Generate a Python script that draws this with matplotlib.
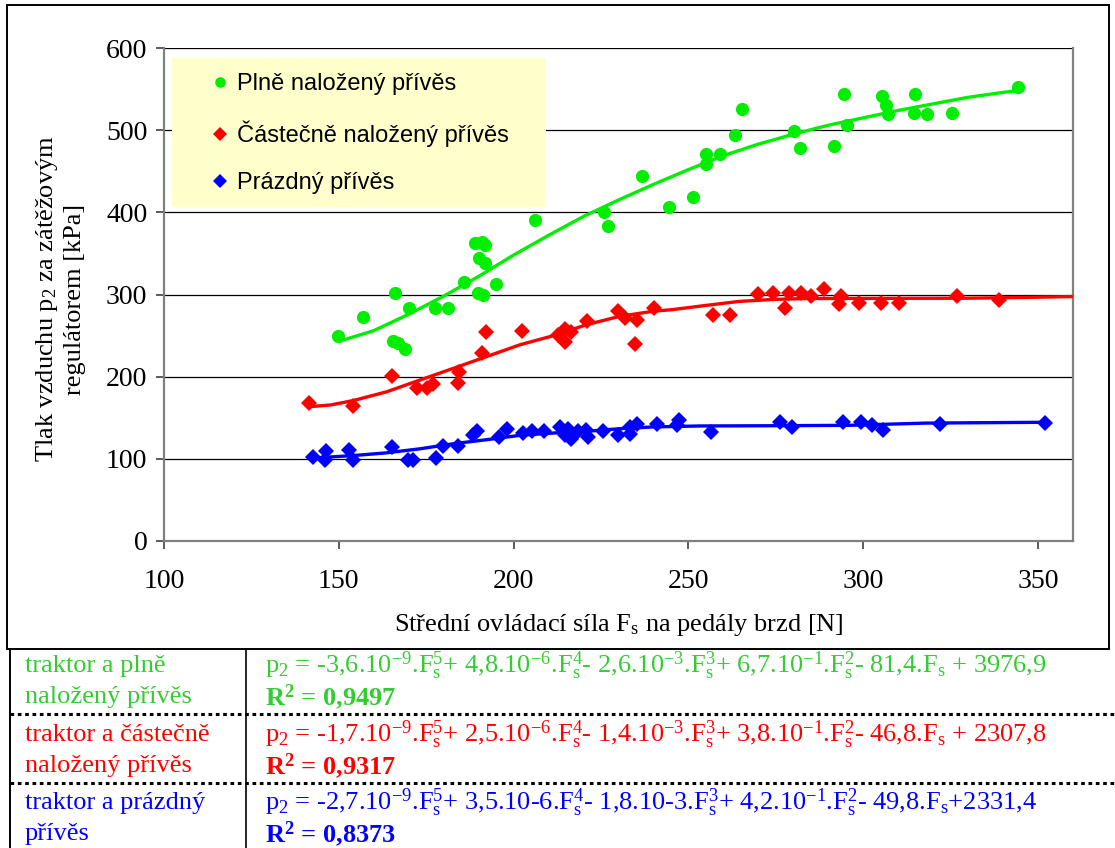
import numpy as np
import matplotlib
matplotlib.use("Agg")
import matplotlib.pyplot as plt
from matplotlib.lines import Line2D
from matplotlib.patches import Rectangle

plt.rcParams["font.family"] = ["Liberation Serif", "DejaVu Serif"]
plt.rcParams["mathtext.fontset"] = "custom"
plt.rcParams["mathtext.rm"] = "Liberation Serif"
plt.rcParams["mathtext.it"] = "Liberation Serif:italic"
plt.rcParams["mathtext.bf"] = "Liberation Serif:bold"

# --- measured data: mean pedal force Fs [N] vs. air pressure p2 [kPa] ---
full_fs = [149.9, 157.0, 166.1, 165.4, 167.0, 168.8, 170.2, 177.5, 181.3, 185.9,
           188.9, 190.9, 191.8, 190.2, 191.8, 189.7, 191.3, 195.0, 206.1, 225.9,
           227.1, 236.6, 244.4, 251.4, 254.9, 254.9, 259.1, 263.3, 265.4, 280.3,
           281.9, 291.7, 294.4, 295.4, 305.4, 306.5, 307.0, 314.5, 314.9, 318.1,
           325.5, 344.4]
full_p2 = [249.8, 272.2, 302.0, 242.9, 240.8, 233.9, 283.7, 283.7, 283.7, 315.5,
           362.4, 364.5, 360.4, 344.9, 338.0, 302.0, 299.2, 313.0, 390.6, 400.0,
           382.9, 444.0, 406.0, 419.2, 471.5, 458.5, 471.5, 494.7, 525.6, 498.8,
           478.5, 480.9, 543.9, 506.1, 541.9, 530.5, 519.5, 521.5, 543.9, 519.5,
           521.5, 552.8]

part_fs = [141.6, 154.2, 165.1, 172.3, 175.3, 176.9, 184.0, 184.5, 190.9, 192.0,
           202.5, 212.8, 214.7, 216.3, 214.7, 221.1, 229.9, 232.0, 235.3, 234.7,
           240.1, 257.1, 262.0, 270.0, 274.1, 277.7, 278.8, 282.2, 285.2, 288.9,
           293.6, 293.1, 298.9, 305.0, 310.3, 326.8, 338.9]
part_p2 = [167.6, 164.5, 200.8, 185.7, 185.7, 190.6, 191.8, 206.1, 229.4, 253.9,
           255.9, 251.0, 258.0, 253.9, 241.6, 267.3, 280.4, 271.4, 268.6, 240.0,
           283.7, 274.7, 274.7, 300.4, 302.0, 283.7, 302.0, 302.0, 297.9, 306.5,
           297.9, 288.2, 290.2, 290.2, 290.2, 297.9, 293.0]

empty_fs = [142.7, 146.3, 146.1, 152.8, 154.2, 165.1, 169.9, 171.1, 177.8, 179.9,
            184.2, 188.3, 189.4, 195.9, 198.0, 202.6, 205.2, 208.7, 213.4, 215.6,
            214.7, 216.3, 218.5, 220.6, 221.3, 225.6, 229.9, 233.2, 233.4, 235.3,
            241.0, 246.6, 247.3, 256.4, 276.2, 279.6, 294.1, 299.3, 302.6, 305.6,
            321.9, 352.1]
empty_p2 = [102.0, 109.0, 98.0, 111.0, 99.0, 114.0, 99.0, 99.0, 101.0, 115.5,
            116.0, 129.0, 133.5, 127.0, 136.0, 131.4, 133.5, 133.5, 138.8, 136.7,
            128.6, 124.5, 133.5, 134.7, 126.5, 133.5, 128.6, 138.8, 130.6, 142.9,
            142.0, 140.8, 147.5, 132.5, 145.0, 139.0, 144.5, 144.5, 141.5, 135.0,
            142.4, 144.0]

# --- 5th-order polynomial trend lines (values along each curve) ---
full_trend_fs = [149.8, 160.0, 170.0, 180.0, 190.0, 200.0, 210.0, 220.0, 230.0,
                 240.0, 250.0, 260.0, 270.0, 280.0, 290.0, 300.0, 310.0, 320.0,
                 330.0, 340.0, 344.4]
full_trend_p2 = [242.7, 256.0, 276.0, 298.0, 322.0, 348.0, 372.0, 395.0, 415.0,
                 434.0, 452.0, 469.0, 483.0, 495.0, 506.0, 515.0, 524.0, 532.0,
                 540.0, 546.0, 548.0]

part_trend_fs = [141.6, 147.6, 154.2, 163.7, 173.2, 182.8, 192.3, 201.8, 211.3,
                 220.9, 230.4, 239.9, 245.2, 254.8, 264.3, 273.8, 283.3, 300.0,
                 330.0, 347.0, 360.0]
part_trend_p2 = [163.5, 165.5, 171.0, 181.6, 195.9, 210.2, 224.5, 238.8, 249.8,
                 263.3, 273.5, 279.6, 281.5, 286.6, 291.5, 293.9, 295.1, 295.2,
                 295.5, 296.5, 297.5]

empty_trend_fs = [142.7, 154.2, 163.7, 173.2, 182.8, 192.3, 201.8, 211.3, 220.9,
                  230.4, 239.9, 253.2, 275.0, 296.0, 318.0, 352.1]
empty_trend_p2 = [101.0, 104.0, 107.3, 112.2, 118.4, 123.3, 128.6, 131.4, 133.5,
                  136.7, 138.8, 140.0, 140.3, 140.8, 143.5, 144.5]

labels = ["Plně naložený přívěs", "Částečně naložený přívěs", "Prázdný přívěs"]
row_names = [("traktor a plně", "naložený přívěs"),
             ("traktor a částečně", "naložený přívěs"),
             ("traktor a prázdný", "přívěs")]
Fs = r"F$_\mathrm{s}$"


def Fpow(n):
    return r"F$_\mathrm{s}^{%d}$" % n


equations = [
    r"p$_2$ = -3,6.10$^{-9}$." + Fpow(5) + r"+ 4,8.10$^{-6}$." + Fpow(4)
    + r"- 2,6.10$^{-3}$." + Fpow(3) + r"+ 6,7.10$^{-1}$." + Fpow(2)
    + "- 81,4." + Fs + " + 3976,9",
    r"p$_2$ = -1,7.10$^{-9}$." + Fpow(5) + r"+ 2,5.10$^{-6}$." + Fpow(4)
    + r"- 1,4.10$^{-3}$." + Fpow(3) + r"+ 3,8.10$^{-1}$." + Fpow(2)
    + "- 46,8." + Fs + " + 2307,8",
    r"p$_2$ = -2,7.10$^{-9}$." + Fpow(5) + "+ 3,5.10-6." + Fpow(4)
    + "- 1,8.10-3." + Fpow(3) + r"+ 4,2.10$^{-1}$." + Fpow(2)
    + "- 49,8." + Fs + "+2331,4",
]
r2_values = ["0,9497", "0,9317", "0,8373"]

marker_colors = ["#00EE00", "#FF0000", "#0000FF"]
text_colors = ["#33CC33", "#FF0000", "#0000FF"]

W, H = 1115, 848
fig = plt.figure(figsize=(W / 100, H / 100), dpi=100)


def fx(px):
    return px / W


def fy(py):
    return 1 - py / H


ax = fig.add_axes([fx(164), fy(541), fx(1073) - fx(164), fy(48) - fy(541)])
ax.set_xlim(100, 360)
ax.set_ylim(0, 600)
ax.set_xticks(np.arange(100, 351, 50))
ax.set_yticks(np.arange(0, 601, 100))
ax.yaxis.grid(True, color="#000000", linewidth=0.9, zorder=0)
ax.set_axisbelow(True)
for s in ax.spines.values():
    s.set_color("#808080")
    s.set_linewidth(1.6)
ax.spines["top"].set_visible(False)
ax.tick_params(axis="both", labelsize=20, length=6, width=1.2, color="#404040")
ax.tick_params(axis="x", pad=14)
ax.tick_params(axis="y", pad=6)

series = [
    (full_fs, full_p2, full_trend_fs, full_trend_p2, "o", 9.5),
    (part_fs, part_p2, part_trend_fs, part_trend_p2, "D", 8.5),
    (empty_fs, empty_p2, empty_trend_fs, empty_trend_p2, "D", 8.5),
]
handles = []
for (xs, ys, tx, ty, mk, ms), col in zip(series, marker_colors):
    ax.plot(xs, ys, linestyle="none", marker=mk, markersize=ms,
            color=col, markeredgewidth=0, zorder=3)
    ax.plot(tx, ty, color=col, linewidth=2.4, zorder=4,
            solid_joinstyle="round", solid_capstyle="butt")
    handles.append(Line2D([], [], linestyle="none", marker=mk,
                          markersize=ms * 0.8, color=col, markeredgewidth=0))

# legend panel
ax.add_patch(Rectangle(((172 - 164) / 909, (541 - 207) / 493),
                       (546 - 172) / 909, (207 - 58) / 493,
                       transform=ax.transAxes, facecolor="#FFFFCC",
                       edgecolor="none", zorder=2))
ax.legend(handles, labels, loc="upper left",
          bbox_to_anchor=((191.5 - 164) / 909, (541 - 52) / 493),
          frameon=False, handlelength=0.6, handletextpad=0.42,
          labelspacing=1.07, prop={"family": "Liberation Sans", "size": 17})

ax.set_xlabel("Střední ovládací síla " + Fs + " na pedály brzd [N]",
              fontsize=19, labelpad=13)
fig.text(fx(60), fy(299), "Tlak vzduchu p$_2$ za zátěžovým\nregulátorem [kPa]",
         rotation=90, ha="center", va="center", fontsize=19, linespacing=1.22)

# chart frame
fig.add_artist(Rectangle((fx(7), fy(649)), fx(1109) - fx(7), fy(5) - fy(649),
                         transform=fig.transFigure, fill=False,
                         edgecolor="black", linewidth=1.4))

# equation table below the chart
fig.add_artist(Line2D([fx(10), fx(10)], [fy(649), fy(848)], color="black", linewidth=1.4))
fig.add_artist(Line2D([fx(246), fx(246)], [fy(649), fy(848)], color="black", linewidth=1.2))
for yy in (714, 783):
    fig.add_artist(Line2D([fx(10), fx(1115)], [fy(yy), fy(yy)], color="black",
                          linewidth=2.2, linestyle=(0, (1.2, 1.2))))

row_tops = [666, 735, 803]
for (n1, n2), eq, r2, col, yt in zip(row_names, equations, r2_values, text_colors, row_tops):
    fig.text(fx(25), fy(yt), n1, color=col, fontsize=19, va="center", ha="left")
    fig.text(fx(25), fy(yt + 31), n2, color=col, fontsize=19, va="center", ha="left")
    fig.text(fx(265), fy(yt), eq, color=col, fontsize=19, va="center", ha="left")
    fig.text(fx(265), fy(yt + 31), r"R$^\mathbf{2}$ = " + r2, color=col, fontsize=19,
             fontweight="bold", va="center", ha="left")

fig.savefig("out.png", dpi=100)
